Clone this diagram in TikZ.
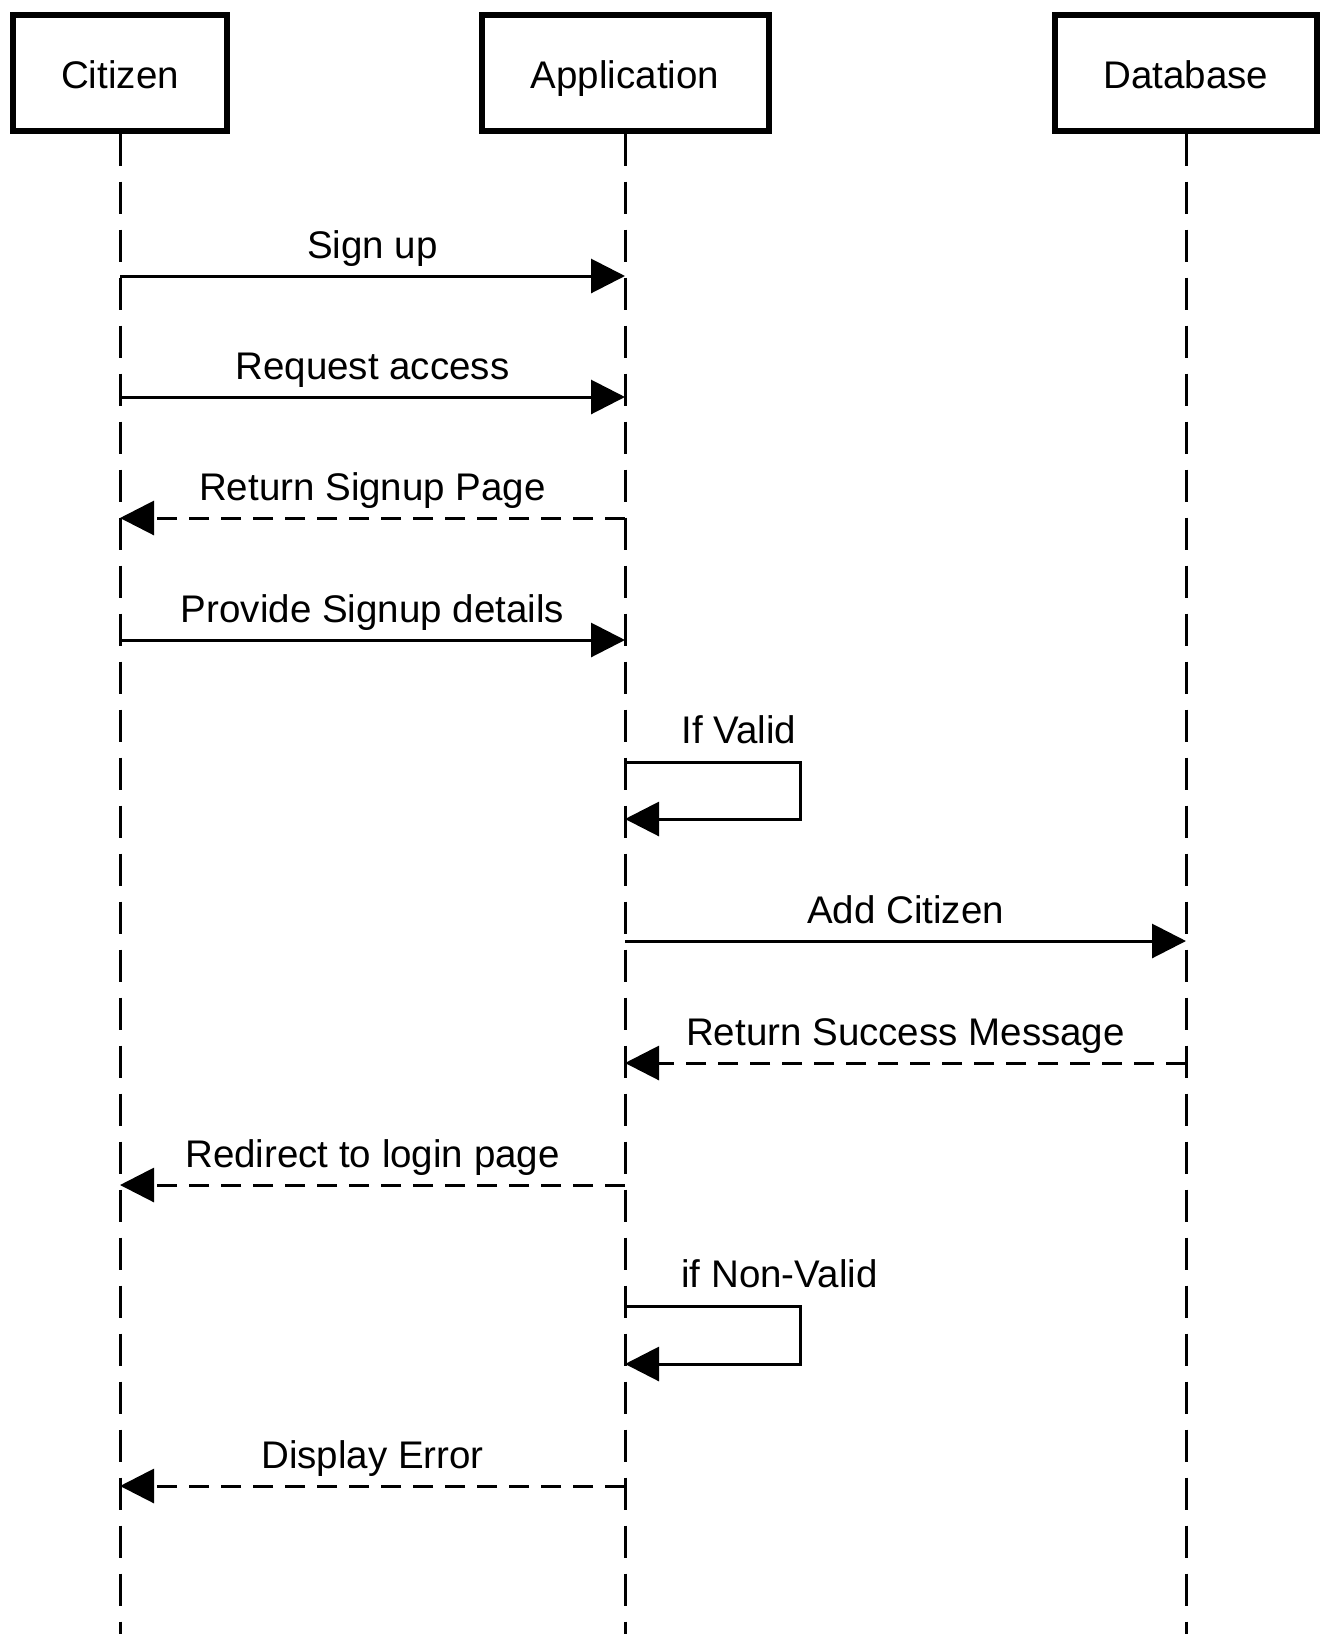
\documentclass[tikz,border=0pt]{standalone}
\usepackage{fontspec}
\setmainfont{Liberation Sans}
\usepackage{xcolor}
\usetikzlibrary{arrows.meta}

\begin{document}
\begin{tikzpicture}[x=0.5pt, y=-0.5pt,
  every node/.style={font=\fontsize{19.25}{23}\selectfont},
  actor/.style={draw, line width=3pt, inner sep=0pt, minimum height=58pt, text height=19.5pt, text depth=4pt},
  lifeline/.style={line width=1.5pt, dash pattern=on 16pt off 8pt},
  msg/.style={line width=1.5pt, -{Triangle[length=17pt, width=17pt]}},
  reply/.style={msg, dash pattern=on 10pt off 6pt},
  lbl/.style={anchor=base, yshift=9pt},
  looplbl/.style={anchor=base west, inner sep=0pt, xshift=28pt, yshift=9.5pt}]
\useasboundingbox (0,0) rectangle (1325,1634);

\node[actor, minimum width=107pt] (cit) at (120,72.5) {Citizen};
\node[actor, minimum width=143.5pt] (app) at (625,72.5) {Application};
\node[actor, minimum width=131pt] (db) at (1186,72.5) {Database};

\coordinate (cit-end) at (cit |- 0,1634);
\coordinate (app-end) at (app |- 0,1634);
\coordinate (db-end) at (db |- 0,1634);
\draw[lifeline] (cit.south)--(cit-end);
\draw[lifeline] (app.south)--(app-end);
\draw[lifeline] (db.south)--(db-end);

\coordinate (c1) at (cit |- 0,276);  \coordinate (a1) at (app |- 0,276);
\coordinate (c2) at (cit |- 0,397);  \coordinate (a2) at (app |- 0,397);
\coordinate (c3) at (cit |- 0,518);  \coordinate (a3) at (app |- 0,518);
\coordinate (c4) at (cit |- 0,640);  \coordinate (a4) at (app |- 0,640);
\coordinate (a5) at (app |- 0,762);  \coordinate (a6) at (app |- 0,819);
\coordinate (a7) at (app |- 0,941);  \coordinate (d7) at (db |- 0,941);
\coordinate (a8) at (app |- 0,1063); \coordinate (d8) at (db |- 0,1063);
\coordinate (c9) at (cit |- 0,1185); \coordinate (a9) at (app |- 0,1185);
\coordinate (a10) at (app |- 0,1306); \coordinate (a11) at (app |- 0,1364);
\coordinate (c12) at (cit |- 0,1486); \coordinate (a12) at (app |- 0,1486);

\draw[msg] (c1)--node[lbl] (signup) {Sign up} (a1);
\draw[msg] (c2)--node[lbl] (request) {Request access} (a2);
\draw[reply] (a3)--node[lbl] (retpage) {Return Signup Page} (c3);
\draw[msg] (c4)--node[lbl] (details) {Provide Signup details} (a4);
\draw[msg] (a5)--++(175,0)--++(0,57)--(a6);
\node[looplbl] (valid) at (a5) {If Valid};
\draw[msg] (a7)--node[lbl] (add) {Add Citizen} (d7);
\draw[reply] (d8)--node[lbl] (success) {Return Success Message} (a8);
\draw[reply] (a9)--node[lbl] (redirect) {Redirect to login page} (c9);
\draw[msg] (a10)--++(175,0)--++(0,58)--(a11);
\node[looplbl] (nonvalid) at (a10) {if Non-Valid};
\draw[reply] (a12)--node[lbl] (error) {Display Error} (c12);
\end{tikzpicture}
\end{document}
